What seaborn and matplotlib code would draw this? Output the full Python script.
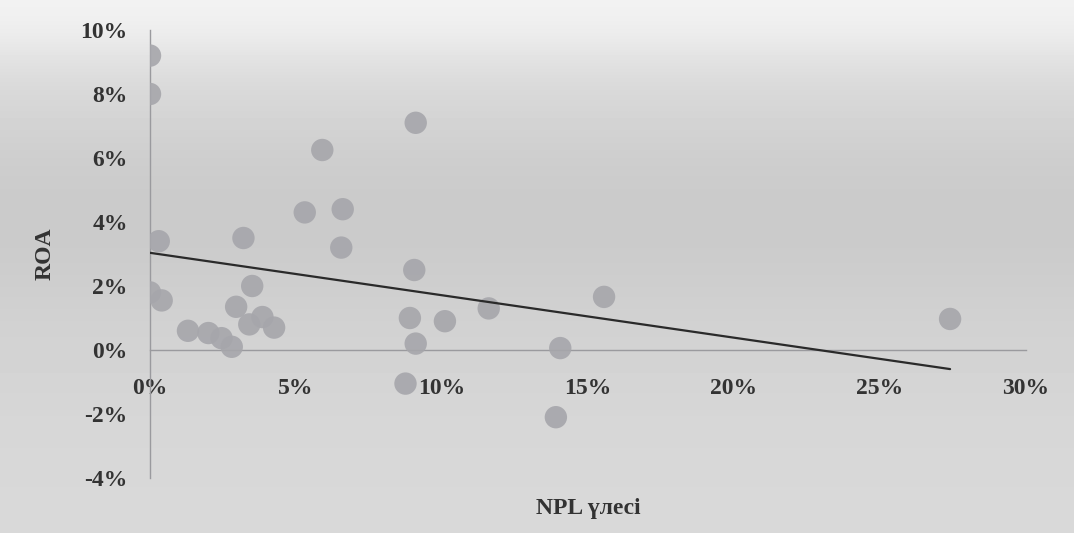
import numpy as np
import pandas as pd
import matplotlib.pyplot as plt
import seaborn as sns
from matplotlib.ticker import FuncFormatter

# ==================== 数据 ====================
npl = [0.0, 0.0, 0.3, 0.0, 0.4, 1.3, 2.0, 2.45, 2.8, 2.95, 3.2, 3.5, 3.4, 3.85,
       4.25, 5.3, 5.9, 6.6, 6.55, 9.05, 9.1, 8.9, 9.1, 8.75, 10.1, 11.6, 14.05,
       13.9, 15.55, 27.4]
roa = [9.2, 8.0, 3.4, 1.8, 1.55, 0.6, 0.53, 0.37, 0.1, 1.35, 3.5, 2.0, 0.8, 1.03,
       0.7, 4.3, 6.25, 4.4, 3.2, 2.5, 7.1, 1.0, 0.2, -1.05, 0.9, 1.3, 0.06,
       -2.1, 1.66, 0.97]
x_ticks = [0, 5, 10, 15, 20, 25, 30]
y_ticks = [-4, -2, 0, 2, 4, 6, 8, 10]

df = pd.DataFrame({'npl': np.array(npl) / 100, 'roa': np.array(roa) / 100})

sns.set_theme(style='white')
plt.rcParams['font.family'] = ['Liberation Serif', 'DejaVu Serif']

fig = plt.figure(figsize=(10.74, 5.33), dpi=100)

# фон (серый скан)
bg = fig.add_axes([0, 0, 1, 1], zorder=-1)
grad = np.array([0.95, 0.86, 0.83, 0.80, 0.79, 0.80, 0.82, 0.83, 0.84, 0.845, 0.85])
bg.imshow(np.tile(grad[:, None], (1, 20)), cmap='gray', vmin=0, vmax=1,
          aspect='auto', extent=[0, 1, 0, 1], interpolation='bicubic')
bg.axis('off')

ax = fig.add_axes([150 / 1074, 1 - 478 / 533, 876 / 1074, 448 / 533])
ax.set_facecolor('none')

sns.scatterplot(data=df, x='npl', y='roa', ax=ax, s=260, color='#a6a6ab',
                edgecolor='none', alpha=0.9, zorder=3)
sns.regplot(data=df, x='npl', y='roa', ax=ax, scatter=False, ci=None,
            line_kws={'color': '#2a2a2a', 'linewidth': 1.6, 'zorder': 4})

ax.set_xlim(0, 0.30)
ax.set_ylim(-0.04, 0.10)
ax.set_xticks([t / 100 for t in x_ticks])
ax.set_yticks([t / 100 for t in y_ticks])
pct = FuncFormatter(lambda v, _: f'{v * 100:.0f}%')
ax.xaxis.set_major_formatter(pct)
ax.yaxis.set_major_formatter(pct)

for s in ['top', 'right']:
    ax.spines[s].set_visible(False)
ax.spines['bottom'].set_position(('data', 0))
for s in ['left', 'bottom']:
    ax.spines[s].set_color('#9a9a9e')
    ax.spines[s].set_linewidth(1.0)
    ax.spines[s].set_zorder(2)

ax.tick_params(axis='both', length=0, labelsize=17, colors='#333333')
ax.tick_params(axis='x', pad=20)
ax.tick_params(axis='y', pad=16)
for lab in ax.get_xticklabels() + ax.get_yticklabels():
    lab.set_fontweight('bold')

ax.set_xlabel('NPL үлесі', fontsize=17, fontweight='bold', color='#333333')
ax.set_ylabel('ROA', fontsize=17, fontweight='bold', color='#333333')
ax.xaxis.set_label_coords(0.5, -0.045)
ax.yaxis.set_label_coords(-0.108, 0.5)
ax.grid(False)

fig.savefig('out.png', dpi=100)
